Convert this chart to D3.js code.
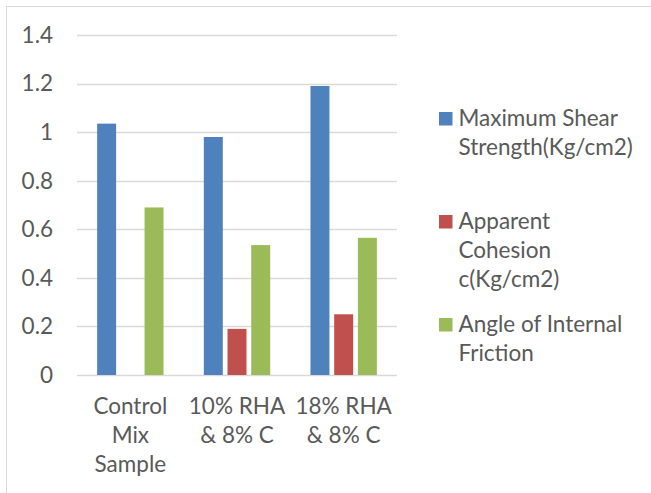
<!DOCTYPE html>
<html>
<head>
<meta charset="utf-8">
<script src="https://cdn.jsdelivr.net/npm/d3@7"></script>
<style>
  html, body { margin: 0; padding: 0; background: #ffffff; }
  svg { display: block; }
  text { font-family: Lato, "Open Sans", sans-serif; fill: #595959; }
</style>
</head>
<body>
<svg id="chart" width="651" height="493"></svg>
<script>
// Samples on the x axis (each label is wrapped onto lines)
const categories = ["Control Mix Sample", "10% RHA & 8% C", "18% RHA & 8% C"];
const categoryLines = [["Control", "Mix", "Sample"], ["10% RHA", "& 8% C"], ["18% RHA", "& 8% C"]];

// Series and their values per sample
const seriesNames = ["Maximum Shear Strength(Kg/cm2)", "Apparent Cohesion c(Kg/cm2)", "Angle of Internal Friction"];
const seriesLines = [["Maximum Shear", "Strength(Kg/cm2)"], ["Apparent", "Cohesion", "c(Kg/cm2)"], ["Angle of Internal", "Friction"]];
const maxShearStrength = [1.035, 0.98, 1.19];
const apparentCohesion = [0, 0.19, 0.25];
const angleInternalFriction = [0.69, 0.535, 0.565];
const seriesValues = [maxShearStrength, apparentCohesion, angleInternalFriction];
const seriesColors = ["#4F81BD", "#C0504D", "#9BBB59"];

// Value axis ticks
const yTicks = [0, 0.2, 0.4, 0.6, 0.8, 1, 1.2, 1.4];

const svg = d3.select("#chart");
const fontSize = 22.5;
const lineStep = 29;

// Chart frame
svg.append("rect")
  .attr("x", 6.5).attr("y", 6.5)
  .attr("width", 800).attr("height", 800)
  .attr("fill", "none")
  .attr("stroke", "#D9D9D9")
  .attr("stroke-width", 1);

const plot = { left: 77, right: 397, top: 35, bottom: 375 };

const y = d3.scaleLinear().domain([0, 1.4]).range([plot.bottom, plot.top]);
const x0 = d3.scaleBand().domain(categories).range([plot.left, plot.right]).padding(0);
const x1 = d3.scaleBand().domain(seriesNames).range([0, x0.bandwidth()])
  .paddingInner(0.2).paddingOuter(0.85);

// Horizontal gridlines
svg.append("g")
  .selectAll("line")
  .data(yTicks)
  .join("line")
  .attr("x1", plot.left).attr("x2", plot.right)
  .attr("y1", d => Math.round(y(d)) + 0.5)
  .attr("y2", d => Math.round(y(d)) + 0.5)
  .attr("stroke", "#D9D9D9")
  .attr("stroke-width", 1.3);

// Y tick labels
svg.append("g")
  .selectAll("text")
  .data(yTicks)
  .join("text")
  .attr("x", 53)
  .attr("y", d => y(d))
  .attr("dy", "0.35em")
  .attr("text-anchor", "end")
  .style("font-size", fontSize + "px")
  .text(d => d3.format("")(+d.toFixed(1)));

// Bars
const groups = svg.append("g")
  .selectAll("g")
  .data(categories)
  .join("g")
  .attr("transform", d => `translate(${x0(d)},0)`);

groups.selectAll("rect")
  .data((c, ci) => seriesNames.map((s, si) => ({ s, si, v: seriesValues[si][ci] })))
  .join("rect")
  .attr("x", d => x1(d.s))
  .attr("width", x1.bandwidth())
  .attr("y", d => y(d.v))
  .attr("height", d => y(0) - y(d.v))
  .attr("fill", d => seriesColors[d.si]);

// Category labels
const catLabels = svg.append("g")
  .selectAll("text")
  .data(categories)
  .join("text")
  .attr("text-anchor", "middle")
  .style("font-size", fontSize + "px")
  .attr("x", d => x0(d) + x0.bandwidth() / 2)
  .attr("y", 414);

catLabels.selectAll("tspan")
  .data((d, i) => categoryLines[i])
  .join("tspan")
  .attr("x", function () { return d3.select(this.parentNode).attr("x"); })
  .attr("dy", (d, i) => i === 0 ? 0 : lineStep)
  .text(d => d);

// Legend
const legendTop = 126;
const legendStep = 103;
const legend = svg.append("g")
  .selectAll("g")
  .data(seriesNames)
  .join("g")
  .attr("transform", (d, i) => `translate(439,${legendTop + i * legendStep})`);

legend.append("rect")
  .attr("x", 0).attr("y", -14)
  .attr("width", 13.5).attr("height", 13.5)
  .attr("fill", (d, i) => seriesColors[i]);

legend.append("text")
  .attr("x", 19.5).attr("y", 0)
  .style("font-size", fontSize + "px")
  .selectAll("tspan")
  .data((d, i) => seriesLines[i])
  .join("tspan")
  .attr("x", 19.5)
  .attr("dy", (d, i) => i === 0 ? 0 : lineStep)
  .text(d => d);
</script>
</body>
</html>
